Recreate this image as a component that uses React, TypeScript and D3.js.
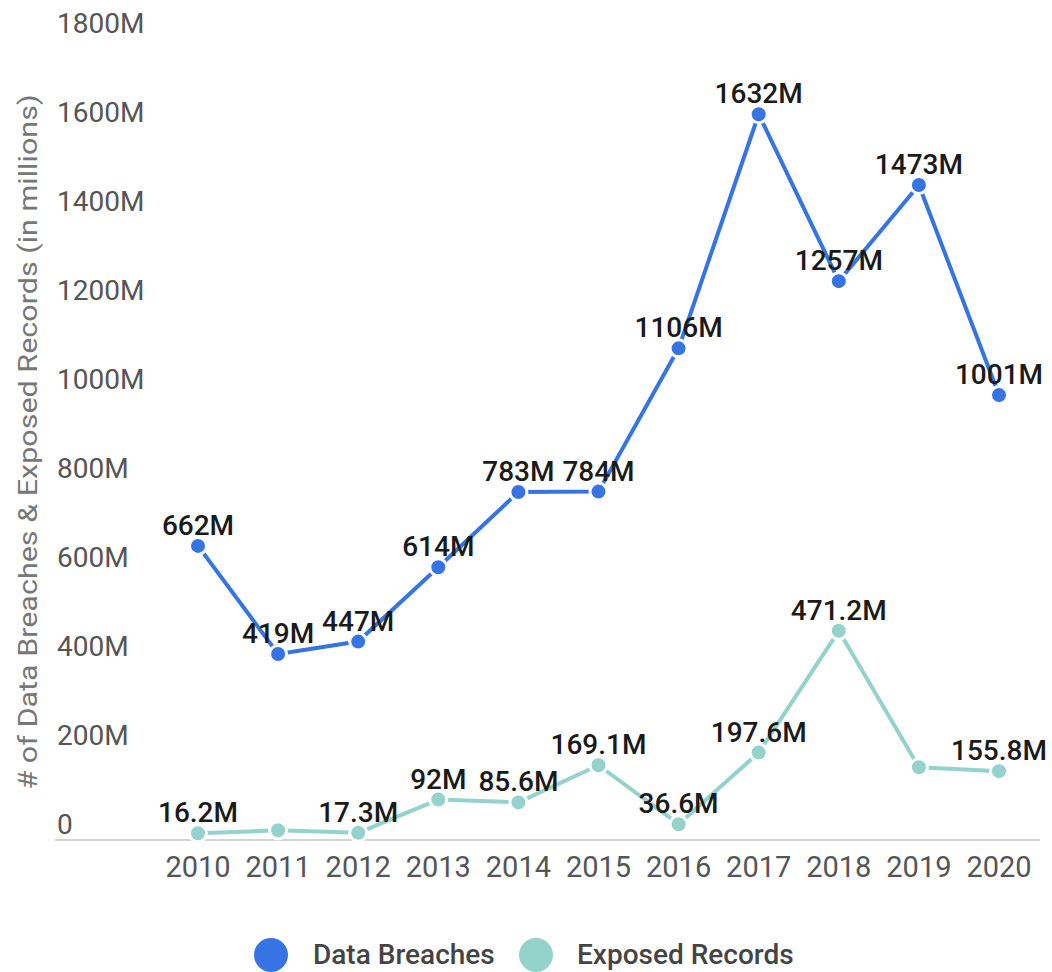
import React from "react";
import * as d3 from "d3";

const years = ["2010","2011","2012","2013","2014","2015","2016","2017","2018","2019","2020"];
const dataBreaches = [662, 419, 447, 614, 783, 784, 1106, 1632, 1257, 1473, 1001];
const dataBreachLabels = ["662M","419M","447M","614M","783M","784M","1106M","1632M","1257M","1473M","1001M"];
const exposedRecords = [16.2, 22.9, 17.3, 92, 85.6, 169.1, 36.6, 197.6, 471.2, 164.7, 155.8];
const exposedLabels = ["16.2M", null, "17.3M", "92M", "85.6M", "169.1M", "36.6M", "197.6M", "471.2M", null, "155.8M"];
const yTicks = [0, 200, 400, 600, 800, 1000, 1200, 1400, 1600, 1800];
const yTickLabels = ["0","200M","400M","600M","800M","1000M","1200M","1400M","1600M","1800M"];
const legendItems = ["Data Breaches", "Exposed Records"];

const BLUE = "#3674e4";
const TEAL = "#93d3ca";
const FONT = "Roboto, 'Noto Sans', sans-serif";

export default function App() {
  const W = 1052, H = 972;
  const x = d3.scalePoint<string>().domain(years).range([198, 999]);
  const y = d3.scaleLinear().domain([0, 1800]).range([840.5, 39.5]);
  const line = d3.line<number>().x((_, i) => x(years[i])!).y(d => y(d));

  const series = [
    { values: dataBreaches, labels: dataBreachLabels, color: BLUE },
    { values: exposedRecords, labels: exposedLabels, color: TEAL },
  ];

  return (
    <svg width={W} height={H} style={{ position: "absolute", left: 0, top: 0, background: "#fff" }} fontFamily={FONT}>
      <rect width={W} height={H} fill="#fff" />
      {/* y title */}
      <text transform="translate(37,442) rotate(-90)" textAnchor="middle" fontSize={26} fill="#777"
        textLength={695} lengthAdjust="spacingAndGlyphs">
        # of Data Breaches &amp; Exposed Records (in millions)
      </text>
      {/* y tick labels */}
      {yTicks.map((t, i) => (
        <text key={t} x={57} y={y(t) - 7} fontSize={28} fill="#555">{yTickLabels[i]}</text>
      ))}
      {/* axis baseline */}
      <line x1={55} x2={1040} y1={840} y2={840} stroke="#d4d4d4" strokeWidth={2} />
      {/* x labels */}
      {years.map(yr => (
        <text key={yr} x={x(yr)} y={877} textAnchor="middle" fontSize={29} fill="#555">{yr}</text>
      ))}
      {/* series */}
      {series.map((s, si) => (
        <g key={si}>
          <path d={line(s.values) || ""} fill="none" stroke={s.color} strokeWidth={4} strokeLinejoin="round" />
          {s.values.map((v, i) => (
            <circle key={i} cx={x(years[i])} cy={y(v)} r={8.5} fill={s.color} stroke="#fff" strokeWidth={3} />
          ))}
        </g>
      ))}
      {series.map((s, si) => (
        <g key={"l" + si}>
          {s.values.map((v, i) => s.labels[i] ? (
            <text key={i} x={x(years[i])} y={y(v) - 11} textAnchor="middle" fontSize={28} fontWeight={500} fill="#1a1a1a">{s.labels[i]}</text>
          ) : null)}
        </g>
      ))}
      {/* legend */}
      <circle cx={271} cy={955} r={17} fill={BLUE} />
      <text x={313} y={964} fontSize={28} fontWeight={500} fill="#444">{legendItems[0]}</text>
      <circle cx={536} cy={955} r={17} fill={TEAL} />
      <text x={577} y={964} fontSize={28} fontWeight={500} fill="#444">{legendItems[1]}</text>
    </svg>
  );
}
